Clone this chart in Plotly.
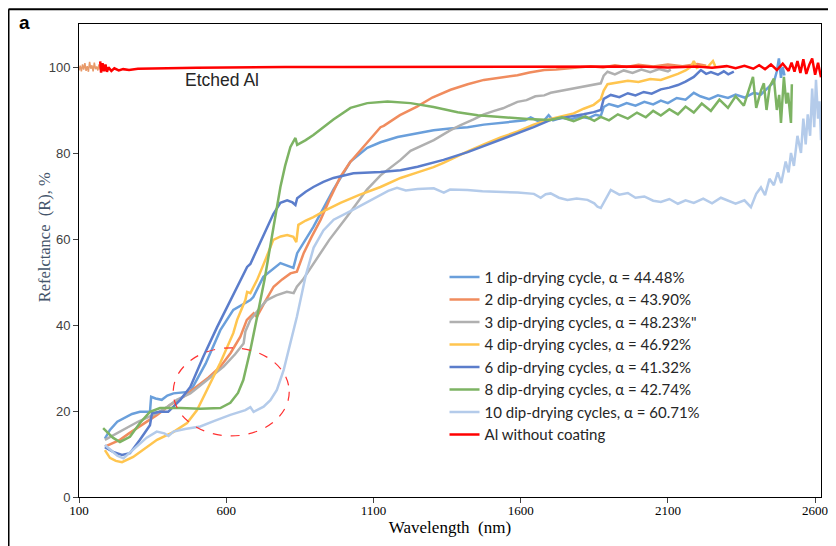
import plotly.graph_objects as go

# ---- data (wavelength nm, reflectance %) ----
s1 = [(188,13.6),(205,15.6),(230,17.5),(251,18.3),(280,19.3),(307,19.8),(341,19.8),(345,23.3),(360,22.9),(381,22.6),(400,23.6),(421,24.1),(450,24.3),(478,24.5),(530,31),(580,38.8),(624,43.5),(682,45.8),(692,46.5),(726,51.2),(784,54.4),(828,53.3),(841,56.7),(896,62.8),(964,71.5),(1022,78),(1079,81.2),(1124,82.5),(1182,83.7),(1250,84.6),(1304,85.3),(1360,85.7),(1420,86),(1475,86.6),(1532,87),(1590,87.3),(1615,87.6),(1634,88.3),(1660,87.4),(1680,87.6),(1695,88.8),(1710,87.6),(1740,88.2),(1770,87.8),(1800,88.5),(1830,88.1),(1855,88.9),(1872,88.6),(1882,90.7),(1900,91.4),(1930,90.8),(1960,91.6),(1990,91.0),(2020,91.9),(2050,91.3),(2076,92.2),(2100,91.6),(2130,92.8),(2160,92.4),(2188,94),(2210,93.2),(2240,92.5),(2270,93.4),(2304,92.8),(2330,93.6),(2360,92.9),(2392,94),(2416,93.6),(2440,95.2),(2460,96.5),(2470,99),(2477,102),(2484,97.5),(2490,100),(2496,98)]
s2 = [(188,11.7),(210,12.4),(239,13.3),(270,14.8),(307,16.4),(340,17.9),(365,19.1),(409,21.4),(455,23.3),(500,25.7),(540,27.8),(580,30.3),(615,33.5),(648,37.3),(670,41.2),(693,42.7),(704,41.9),(730,45.2),(761,48.9),(790,50.6),(818,52),(840,52.4),(863,56.7),(890,60.5),(920,64.4),(955,69.8),(988,74.5),(1020,77.8),(1056,80.7),(1090,83.5),(1124,86),(1135,86.3),(1190,88.8),(1248,90.8),(1300,92.9),(1362,94.7),(1420,96),(1475,97),(1530,97.5),(1589,98.1),(1630,98.7),(1680,99.3),(1720,99.4),(1759,99.7),(1800,100.0),(1838,100.2),(1880,99.9),(1920,100.4),(1960,100.0),(2000,100.5),(2050,100.1),(2100,100.6),(2150,100.2),(2200,100.7),(2230,100.3)]
s3 = [(188,13.3),(220,14.5),(251,15.6),(300,17.5),(365,19.5),(400,21),(432,22.6),(478,24.1),(535,27.2),(591,30.3),(630,33.2),(659,35.7),(665,38.5),(682,41.2),(710,43.6),(738,45.8),(770,46.9),(806,47.7),(829,47.4),(840,48.9),(860,50.5),(897,54.3),(950,59.8),(1010,65.2),(1078,71.5),(1124,74.8),(1192,78.4),(1226,80.5),(1305,83),(1362,85.3),(1396,86.5),(1440,87.8),(1475,89.0),(1510,89.8),(1540,90.4),(1589,91.9),(1620,92.3),(1650,93.2),(1680,93.4),(1702,94.0),(1740,94.5),(1770,94.9),(1815,95.4),(1840,95.9),(1872,96.2),(1882,98.0),(1895,98.9),(1920,98.3),(1950,99.2),(1980,98.6),(2010,99.4),(2040,98.8),(2070,99.5),(2100,99.0),(2110,99.4)]
s4 = [(188,10.9),(205,9.1),(225,8.4),(246,8.1),(284,9.3),(331,11.6),(365,13.3),(420,15.1),(467,17.2),(501,20.2),(535,24.9),(580,31.2),(624,38.1),(637,41.2),(665,45.8),(671,47.7),(682,47.4),(705,50.5),(735,55.5),(760,59.8),(785,60.6),(807,60.9),(828,60.5),(838,59.3),(845,63.3),(870,64.3),(896,65.1),(940,66.8),(988,68.4),(1050,70.2),(1124,72.1),(1192,74.2),(1250,75.5),(1304,76.7),(1338,77.7),(1420,80.4),(1475,82),(1532,83.6),(1590,85),(1644,86.6),(1702,87.9),(1740,88.6),(1780,89.2),(1814,90.3),(1848,91.2),(1872,92.5),(1882,94.5),(1895,96),(1930,96.4),(1964,96.8),(2000,96.5),(2040,97.2),(2076,97.0),(2110,97.8),(2134,98.4),(2160,99.2),(2178,100),(2188,101.4),(2198,99.8),(2212,100.2),(2235,100.0),(2253,101.4),(2262,100.0)]
s6 = [(188,11.6),(216,10.5),(246,9.8),(273,10.2),(307,13.3),(341,16.7),(348,19.5),(375,19.8),(403,19.8),(420,20.9),(444,22.6),(478,25.6),(522,32.6),(569,39.5),(614,45.8),(645,50),(671,53.5),(682,54.2),(710,58.5),(739,62.8),(760,65.8),(784,68.4),(807,69),(825,68.5),(835,67.9),(841,69.5),(870,71),(896,72.1),(930,73.3),(964,74.2),(1032,75.3),(1124,75.6),(1192,76),(1250,76.8),(1304,77.7),(1338,78.4),(1420,80.2),(1475,81.6),(1532,83),(1590,84.6),(1644,86),(1702,87.7),(1740,88.1),(1780,88.6),(1814,89.0),(1848,89.5),(1872,90.0),(1882,92.6),(1906,93.5),(1935,93.0),(1964,93.9),(1990,93.4),(2018,94.2),(2045,93.8),(2076,94.8),(2105,95.2),(2134,95.8),(2160,96.6),(2188,97.7),(2212,99.3),(2230,98.4),(2246,98.8),(2270,98.2),(2290,99.0),(2305,98.3),(2324,98.9)]
s8 = [(182,16),(195,15.1),(215,13.8),(239,12.8),(273,14),(307,17.2),(341,19.8),(375,20.7),(444,20.7),(512,20.5),(580,20.7),(614,21.9),(640,24.2),(658,27.2),(682,34.2),(705,41.9),(730,50.5),(760,62.5),(784,72.1),(800,77),(818,81.4),(835,83.5),(841,81.9),(870,83),(896,84.2),(930,86),(964,87.8),(1022,90.5),(1079,91.6),(1148,92),(1226,91.6),(1304,90.7),(1386,89.5),(1454,88.8),(1532,88.4),(1624,87.9),(1702,87.7),(1740,88.3),(1780,87.4),(1820,88.5),(1850,87.5),(1872,88.4),(1900,87.6),(1930,89.0),(1964,88.0),(1995,89.4),(2025,88.3),(2050,89.8),(2076,88.7),(2105,90.2),(2134,89.0),(2160,90.8),(2188,89.4),(2215,91.5),(2246,89.8),(2275,92.4),(2304,90.5),(2330,93.2),(2358,91.0),(2375,94.5),(2389,97.7),(2400,90.5),(2416,94.5),(2426,96.2),(2435,90.0),(2446,95.5),(2460,97.3),(2470,90.0),(2478,93.5),(2484,87.0),(2494,97.7),(2502,91.5),(2508,94.0),(2518,87.0),(2521,96.0)]
s10 = [(188,12.1),(205,11),(230,9.6),(251,9),(275,10.4),(300,12),(330,13.8),(364,15.2),(390,14.8),(404,14.2),(421,15.2),(460,15.8),(512,16.4),(560,17.7),(614,19.1),(665,20.2),(682,20.9),(693,19.8),(727,21),(750,22.5),(772,24.9),(795,29.5),(818,35.7),(840,41.9),(870,51.5),(897,58),(930,62),(965,64.5),(1022,66.5),(1079,68.6),(1124,70.2),(1150,71.2),(1180,71.9),(1210,71.3),(1250,71.6),(1305,71.8),(1325,71.2),(1339,70.8),(1360,71.5),(1419,71.4),(1470,71.1),(1532,71),(1590,70.8),(1645,70.5),(1668,69.6),(1685,70.4),(1702,70.6),(1730,69.6),(1759,69.1),(1790,69.4),(1827,69.1),(1850,68.3),(1861,67.5),(1872,67.2),(1890,69.6),(1906,71.4),(1935,70.3),(1964,70.7),(1990,69.6),(2020,69.9),(2050,68.9),(2076,68.6),(2105,69.3),(2134,68.2),(2160,69.0),(2188,68.4),(2220,69.4),(2250,68.3),(2280,69.6),(2304,69.0),(2330,68.2),(2360,69.0),(2382,67.4),(2400,70.5),(2416,72),(2430,70.2),(2445,74),(2460,72.5),(2473,75.5),(2485,73),(2500,78),(2510,75.5),(2518,80),(2528,77),(2540,84),(2552,80),(2560,88),(2568,82),(2575,89),(2583,84),(2590,95),(2597,86),(2603,97),(2610,88),(2615,92),(2620,83)]
al_start = [(100,99.2),(104,100.3),(108,99.0),(112,100.6),(116,99.4),(120,100.9),(124,99.1),(128,100.2),(132,98.9),(136,101.2),(140,99.6),(144,100.4),(148,99.0),(152,101.0),(156,99.5),(160,100.1),(164,99.2),(168,100.6),(172,99.4)]
al = [(172,101.3),(175,98.7),(180,100.9),(185,99.0),(190,100.6),(195,98.9),(200,99.9),(210,99.1),(220,99.7),(235,99.2),(250,99.5),(270,99.3),(300,99.6),(350,99.6),(400,99.7),(500,99.8),(600,99.9),(800,100),(1000,100),(1200,100),(1400,100),(1600,100.1),(1800,100),(2000,100.1),(2100,99.9),(2200,100.1),(2250,99.8),(2300,100.2),(2330,99.7),(2360,100.3),(2390,99.6),(2410,100.4),(2430,99.5),(2450,100.6),(2470,99.3),(2490,100.8),(2510,99.1),(2520,101),(2530,98.9),(2540,101.4),(2550,98.6),(2560,101.8),(2570,98.4),(2580,100.5),(2590,102),(2600,98.2),(2610,101),(2620,97.6)]

series_names = ["1 dip-drying cycle, \u03b1 = 44.48%",
                "2 dip-drying cycles, \u03b1 = 43.90%",
                "3 dip-drying cycles, \u03b1 = 48.23%\"",
                "4 dip-drying cycles, \u03b1 = 46.92%",
                "6 dip-drying cycles, \u03b1 = 41.32%",
                "8 dip-drying cycles, \u03b1 = 42.74%",
                "10 dip-drying cycles, \u03b1 = 60.71%",
                "Al without coating"]
series_data = [s1, s2, s3, s4, s6, s8, s10, al]
series_colors = ["#6A9FDB", "#F08C5E", "#B0B0B0", "#FFC54F", "#5B7DCB", "#7DB363", "#B4CBEA", "#FF0000"]
x_ticks = [100, 600, 1100, 1600, 2100, 2600]
y_ticks = [0, 20, 40, 60, 80, 100]

fig = go.Figure()
fig.add_trace(go.Scatter(x=[p[0] for p in al_start], y=[p[1] for p in al_start], mode="lines",
                         line=dict(color="#E89A6A", width=1.5), showlegend=False, hoverinfo="skip"))
for i, (name, data, col) in enumerate(zip(series_names, series_data, series_colors)):
    fig.add_trace(go.Scatter(x=[p[0] for p in data], y=[p[1] for p in data], mode="lines",
                             name=name, legendgroup=f"g{i}",
                             line=dict(color=col, width=2.5)))

fig.add_shape(type="circle", xref="x", yref="y", x0=420, x1=814, y0=14.2, y1=34.7,
              line=dict(color="#FF3030", width=1.2, dash="dash"))

# outer frame
fig.add_shape(type="line", xref="paper", yref="paper", x0=-0.095, x1=1.03, y0=1.031, y1=1.031,
              line=dict(color="black", width=2))
fig.add_shape(type="line", xref="paper", yref="paper", x0=-0.095, x1=-0.095, y0=1.031, y1=-0.12,
              line=dict(color="black", width=2))

fig.add_annotation(text="<b>a</b>", xref="paper", yref="paper", x=-0.0837, y=1.004, showarrow=False,
                   font=dict(family="Liberation Sans", size=19, color="black"), xanchor="left", yanchor="middle")
fig.add_annotation(text="Etched Al", x=586, y=96.9, showarrow=False,
                   font=dict(family="Liberation Sans", size=17.5, color="#262626"))
fig.add_annotation(text="Refelctance  (R), %", xref="paper", yref="paper", x=-0.062, y=0.55,
                   textangle=-90, showarrow=False,
                   font=dict(family="Liberation Serif", size=16.5, color="#44546A"))

fig.update_layout(
    width=828, height=538,
    margin=dict(l=71, r=8, t=16, b=49),
    paper_bgcolor="white", plot_bgcolor="white",
    legend=dict(x=0.4926, y=0.4996, xanchor="left", yanchor="top",
                font=dict(family="Lato", size=15, color="#262626"),
                bgcolor="rgba(0,0,0,0)", tracegroupgap=0, itemwidth=30),
    xaxis=dict(range=[100, 2620], tickvals=x_ticks, ticks="outside", ticklen=5,
               ticklabelstandoff=-4,
               showgrid=False, zeroline=False, showline=True, linecolor="black", mirror=True,
               tickfont=dict(family="Liberation Serif", size=13, color="black"),
               title=dict(text="Wavelength  (nm)", standoff=3,
                          font=dict(family="Liberation Serif", size=17, color="black"))),
    yaxis=dict(range=[0, 110], tickvals=y_ticks, ticks="outside", ticklen=5,
               showgrid=False, zeroline=False, showline=True, linecolor="black", mirror=True,
               tickfont=dict(family="Liberation Sans", size=13, color="#404040")),
)
fig.write_html("out.html")
